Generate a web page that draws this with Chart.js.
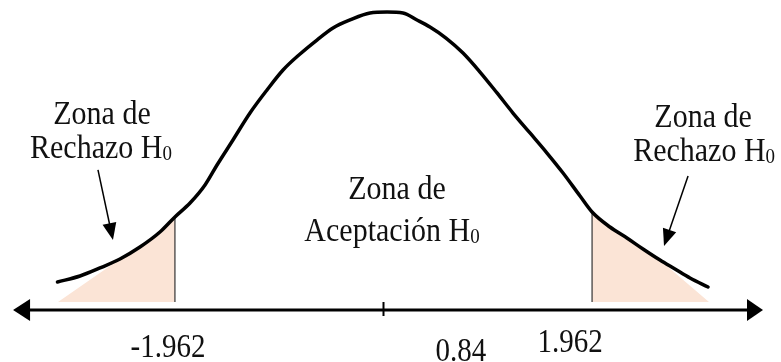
<!DOCTYPE html>
<html>
<head>
<meta charset="utf-8">
<script src="https://cdn.jsdelivr.net/npm/chart.js@4/dist/chart.umd.min.js"></script>
<style>
  body { margin: 0; background: #fff; }
  #wrap { width: 781px; height: 362px; }
</style>
</head>
<body>
<div id="wrap"><canvas id="canvas" width="781" height="362"></canvas></div>
<script>
// curva (z, altura)
var zValues = [-3.067,-2.855,-2.667,-2.479,-2.291,-2.103,-1.962,-1.820,-1.679,-1.566,-1.416,-1.256,-1.096,-0.945,-0.785,-0.626,-0.475,-0.315,-0.127,0.033,0.183,0.315,0.437,0.588,0.748,0.908,1.068,1.218,1.378,1.538,1.689,1.849,1.962,2.13,2.29,2.441,2.601,2.742,2.883,3.053];
var density = [0.0377,0.0458,0.0566,0.0687,0.0848,0.105,0.1253,0.1441,0.1684,0.1953,0.229,0.2653,0.2963,0.3232,0.3448,0.3636,0.3798,0.3906,0.4,0.4013,0.4,0.3906,0.3811,0.3663,0.3461,0.3205,0.2923,0.2653,0.2384,0.2114,0.1845,0.1535,0.132,0.1118,0.097,0.0822,0.0673,0.0552,0.0431,0.031];

var criticalValues = [-1.962, 1.962];
var tickLabels = ["-1.962", "0.84", "1.962"];
var zoneTitles = ["Zona de", "Zona de", "Zona de"];
var zoneNames = ["Rechazo H", "Aceptación H", "Rechazo H"];

// bordes de las zonas sombreadas
var shadeBase = 0.0108;
var leftShadeStart = -3.062, leftShadeJoin = -2.479;
var rightShadeJoin = 2.601, rightShadeEnd = 3.062;

// posiciones de textos y flechas (en unidades de los ejes)
var layout = {
    axis: [-3.485, 3.57],
    tickAt: 0,
    numbers: [[-2.027, -0.0633], [0.729, -0.0687], [1.755, -0.0566]],
    zones: [
        [[-2.648, 0.2505], [-2.658, 0.2047]],
        [[0.127, 0.1495], [0.08, 0.0929]],
        [[3.006, 0.2465], [3.016, 0.2007]]
    ],
    pointers: [[[-2.686, 0.1886], [-2.545, 0.0943]], [[2.865, 0.1805], [2.639, 0.0862]]]
};

var curve = zValues.map(function (z, i) { return {x: z, y: density[i]}; });

var leftShade = [{x: leftShadeStart, y: shadeBase}].concat(curve.filter(function (p) {
    return p.x >= leftShadeJoin && p.x <= criticalValues[0];
}));
var rightShade = curve.filter(function (p) {
    return p.x >= criticalValues[1] && p.x <= rightShadeJoin;
}).concat([{x: rightShadeEnd, y: shadeBase}]);

function curveAt(z) {
    return density[zValues.indexOf(z)];
}

var shadeColor = "rgb(251,228,214)";

function arrowHead(ctx, fx, fy, tx, ty, len, half) {
    var dx = tx - fx, dy = ty - fy, d = Math.sqrt(dx * dx + dy * dy);
    var ux = dx / d, uy = dy / d;
    var bx = tx - ux * len, by = ty - uy * len;
    ctx.beginPath();
    ctx.moveTo(tx, ty);
    ctx.lineTo(bx - uy * half, by + ux * half);
    ctx.lineTo(bx + uy * half, by - ux * half);
    ctx.closePath();
    ctx.fill();
}

var FONT = '"Liberation Serif", "Times New Roman", serif';
var STRETCH = 1.15;

function drawText(ctx, text, sub, cx, y, size) {
    ctx.font = size + "px " + FONT;
    var w = ctx.measureText(text).width;
    var subSize = Math.round(size * 0.62);
    var sw = 0;
    if (sub) {
        ctx.font = subSize + "px " + FONT;
        sw = ctx.measureText(sub).width;
    }
    var x = cx - (w + sw) / 2;
    ctx.save();
    ctx.translate(x, y);
    ctx.scale(1, STRETCH);
    ctx.font = size + "px " + FONT;
    ctx.fillText(text, 0, 0);
    if (sub) {
        ctx.font = subSize + "px " + FONT;
        ctx.fillText(sub, w, 2);
    }
    ctx.restore();
}

var overlay = {
    id: "overlay",
    afterDatasetsDraw: function (chart) {
        var ctx = chart.ctx, xs = chart.scales.x, ys = chart.scales.y;
        var px = function (v) { return xs.getPixelForValue(v); };
        var py = function (v) { return ys.getPixelForValue(v); };
        ctx.save();
        ctx.fillStyle = "#000";
        ctx.strokeStyle = "#000";

        // eje con flechas
        var y0 = py(0), xl = px(layout.axis[0]), xr = px(layout.axis[1]);
        ctx.lineWidth = 3;
        ctx.beginPath();
        ctx.moveTo(xl + 12, y0);
        ctx.lineTo(xr - 12, y0);
        ctx.stroke();
        arrowHead(ctx, xr, y0, xl, y0, 17, 11);
        arrowHead(ctx, xl, y0, xr, y0, 16, 11);

        // marca central
        ctx.lineWidth = 2;
        ctx.beginPath();
        ctx.moveTo(px(layout.tickAt), y0 - 8);
        ctx.lineTo(px(layout.tickAt), y0 + 6);
        ctx.stroke();

        // flechas de las zonas
        ctx.lineWidth = 1.5;
        layout.pointers.forEach(function (p) {
            var fx = px(p[0][0]), fy = py(p[0][1]), tx = px(p[1][0]), ty = py(p[1][1]);
            ctx.beginPath();
            ctx.moveTo(fx, fy);
            ctx.lineTo(tx - (tx - fx) * 0.15, ty - (ty - fy) * 0.15);
            ctx.stroke();
            arrowHead(ctx, fx, fy, tx, ty, 17, 7);
        });

        // textos
        ctx.fillStyle = "#111";
        ctx.textBaseline = "alphabetic";
        ctx.textAlign = "left";
        layout.zones.forEach(function (z, i) {
            drawText(ctx, zoneTitles[i], "", px(z[0][0]), py(z[0][1]), 30);
            drawText(ctx, zoneNames[i], "0", px(z[1][0]), py(z[1][1]), 30);
        });
        layout.numbers.forEach(function (n, i) {
            drawText(ctx, tickLabels[i], "", px(n[0]), py(n[1]), 29);
        });
        ctx.restore();
    }
};

var ctx = document.getElementById("canvas").getContext("2d");
var config = {
    type: "scatter",
    data: {
        datasets: [
            {
                data: curve,
                showLine: true,
                borderColor: "#000",
                borderWidth: 3.5,
                borderCapStyle: "round",
                cubicInterpolationMode: "monotone",
                pointRadius: 0,
                fill: false,
                order: 0
            },
            {
                data: [{x: criticalValues[0], y: shadeBase}, {x: criticalValues[0], y: curveAt(criticalValues[0])}],
                showLine: true,
                borderColor: "#333",
                borderWidth: 1.2,
                pointRadius: 0,
                order: 1
            },
            {
                data: [{x: criticalValues[1], y: shadeBase}, {x: criticalValues[1], y: curveAt(criticalValues[1])}],
                showLine: true,
                borderColor: "#333",
                borderWidth: 1.2,
                pointRadius: 0,
                order: 1
            },
            {
                data: leftShade,
                showLine: true,
                borderWidth: 0,
                borderColor: shadeColor,
                backgroundColor: shadeColor,
                pointRadius: 0,
                fill: {value: shadeBase},
                order: 2
            },
            {
                data: rightShade,
                showLine: true,
                borderWidth: 0,
                borderColor: shadeColor,
                backgroundColor: shadeColor,
                pointRadius: 0,
                fill: {value: shadeBase},
                order: 2
            }
        ]
    },
    options: {
        responsive: false,
        animation: false,
        layout: {padding: 0},
        plugins: {legend: {display: false}, tooltip: {enabled: false}},
        scales: {
            x: {type: "linear", display: false, min: -3.6077, max: 3.7394},
            y: {type: "linear", display: false, min: -0.07003, max: 0.41751}
        }
    },
    plugins: [overlay]
};
var myChart = new Chart(ctx, config);
</script>
</body>
</html>
